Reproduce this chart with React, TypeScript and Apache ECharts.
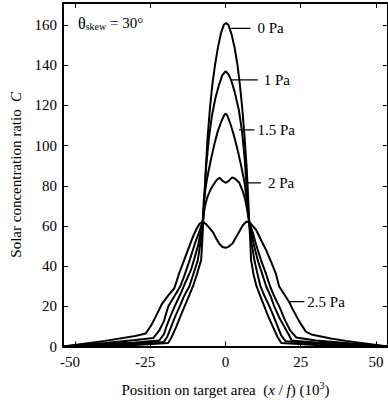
import React, { useEffect, useRef } from "react";
import * as echarts from "echarts";

const xTicks = [-50, -25, 0, 25, 50];
const yTicks = [0, 20, 40, 60, 80, 100, 120, 140, 160];

const seriesNames = ["0 Pa", "1 Pa", "1.5 Pa", "2 Pa", "2.5 Pa"];

const x0Pa = [-54, -40, -30, -19, -17.8, -16.3, -15, -13.6, -12.2, -10.8, -9.5, -8.1, -7.7, -7.4, -7.0, -6.5, -5.9, -5.2, -4.4, -3.5, -2.5, -1.5, -0.6, 0.2, 1, 2, 3, 4, 4.8, 5.6, 6.3, 7, 7.5, 7.9, 8.2, 8.5, 9.3, 10.3, 11.6, 12.9, 14.2, 15.7, 17.2, 18.5, 30, 40, 54];
const y0Pa = [0, 0.4, 0.7, 1.8, 5, 10, 15, 20, 25, 30, 36, 43, 53, 62, 75, 90, 105, 118, 130, 140, 149, 156, 160, 161, 160, 155.5, 149, 140, 130, 118, 105, 90, 75, 62, 53, 43, 36, 30, 25, 20, 15, 10, 5, 1.8, 0.7, 0.4, 0];

const x1Pa = [-54, -40, -30, -20.5, -19.3, -18, -16.7, -15.2, -13.8, -12, -10.7, -9.2, -8.3, -7.5, -7, -6.4, -5.5, -4.5, -3.3, -2.2, -1.1, 0, 1, 1.9, 3, 4.4, 5.5, 6.4, 7.1, 7.8, 8.6, 9.6, 10.5, 11.6, 13, 14.6, 16, 17.3, 18.5, 20, 30, 40, 54];
const y1Pa = [0, 0.8, 1.4, 2.3, 5, 10, 15, 20, 25, 30, 36, 43, 52, 62, 75, 90, 104, 115, 124, 130, 135, 137, 135.5, 132.5, 127, 118, 107, 93, 78, 62, 52, 43, 37, 30, 25, 20, 15, 10, 5.5, 2.6, 1.4, 0.8, 0];

const x15Pa = [-54, -40, -30, -22, -20.5, -19.6, -18.3, -16.9, -15, -13.3, -11.5, -10.5, -9, -7.6, -7.2, -6.2, -5, -3.8, -2.6, -1.4, -0.5, 0, 0.6, 1.6, 2.8, 4, 5.2, 6.4, 7.3, 7.9, 9.2, 10.7, 12, 13.5, 15, 16.2, 18, 19.5, 21, 22, 30, 40, 54];
const y15Pa = [0, 1.2, 2, 3, 6, 10, 15, 20, 26, 32, 38, 43, 51, 62, 73, 83, 92, 100, 107, 112, 115, 116, 115, 111, 105, 98, 90, 81, 70, 62, 52, 43, 37, 30, 25, 20, 14, 10, 6, 3, 2, 1.2, 0];

const x2Pa = [-54, -40, -30, -24, -22, -20.5, -19, -17, -15, -13.5, -11.9, -10, -8.5, -7.5, -6.8, -6, -5, -4, -3, -2, -1, 0, 1, 2.2, 3.2, 4.6, 5.7, 6.5, 7.3, 7.9, 9, 10.3, 11.8, 13.5, 14.8, 16.5, 18, 19.8, 21.5, 23.5, 30, 40, 54];
const y2Pa = [0, 1.8, 3.2, 4.2, 8, 12.5, 20, 25, 30, 36, 43, 52, 58, 63, 70, 74.5, 78, 80.5, 82.8, 84, 82.5, 81.5, 82.3, 84.2, 83.5, 81.5, 77.5, 73.5, 67, 62, 57, 50, 43, 36, 30, 24, 19.5, 13, 8, 4.5, 3, 1.8, 0];

const x25Pa = [-54, -40, -30, -26.5, -24.5, -22.5, -21, -19, -17, -15.5, -14, -12.5, -11, -9.5, -8.5, -7.5, -6.5, -5.5, -4.2, -3, -2, -1, 0, 1, 2.4, 3.5, 4.6, 5.8, 7, 8.2, 10.2, 11.8, 13.5, 15.2, 16.8, 17.8, 19.5, 21.2, 22.5, 24.5, 26.7, 28.5, 35, 40, 54];
const y25Pa = [0, 2.8, 5.2, 6.5, 11, 17, 21.5, 25.5, 29, 36, 42, 48, 54, 59, 61.3, 62, 61, 59.3, 57, 53.5, 51, 49.5, 49.2, 49.6, 51.4, 54.5, 57.3, 60.5, 62.2, 61.5, 58, 53, 48, 42, 36, 30, 26, 22, 18, 12.5, 7.4, 6, 4, 2.8, 0];

const curveX = [x0Pa, x1Pa, x15Pa, x2Pa, x25Pa];
const curveY = [y0Pa, y1Pa, y15Pa, y2Pa, y25Pa];

const labelY = [158.4, 132.7, 107.8, 81.5, 22.3];
const labelStartX = [1.9, 1.9, 4.5, 6.3, 21.2];
const labelEndX = [8.3, 10.7, 9.6, 11.8, 26.2];
const labelGap = [7, 6, 3, 7, 3];

const FONT = "Liberation Serif";

export default function App() {
  const ref = useRef<HTMLDivElement>(null);
  useEffect(() => {
    if (!ref.current) return;
    const chart = echarts.init(ref.current, null, { renderer: "svg" });

    const curveSeries = seriesNames.map((name, i) => ({
      name,
      type: "line",
      xAxisIndex: 0,
      yAxisIndex: 0,
      symbol: "none",
      smooth: false,
      lineStyle: { color: "#000", width: 2 },
      data: curveX[i].map((x, j) => [x, curveY[i][j]]),
      z: 3,
    }));

    const labelSeries = seriesNames.map((name, i) => ({
      name: name + " label",
      type: "line",
      xAxisIndex: 0,
      yAxisIndex: 0,
      symbol: "none",
      lineStyle: { color: "#000", width: 1.2 },
      data: [
        [labelStartX[i], labelY[i]],
        [labelEndX[i], labelY[i]],
      ],
      endLabel: {
        show: true,
        formatter: name,
        distance: labelGap[i],
        color: "#000",
        fontFamily: FONT,
        fontSize: 15,
        fontWeight: "normal",
      },
      z: 4,
    }));

    const tickStyle = { color: "#000", width: 1 };

    chart.setOption({
      animation: false,
      backgroundColor: "#fff",
      textStyle: { fontFamily: FONT, fontWeight: "normal" },
      grid: { left: 63, top: 3, right: -1, bottom: 55.5, containLabel: false },
      xAxis: [
        {
          type: "value",
          position: "bottom",
          min: -54,
          max: 54,
          axisLine: { show: true, onZero: false, lineStyle: { color: "#000", width: 2 } },
          axisTick: { show: true, inside: true, length: 5, customValues: xTicks, lineStyle: tickStyle },
          axisLabel: {
            show: true,
            customValues: xTicks,
            margin: 8,
            color: "#000",
            fontFamily: FONT,
            fontSize: 15,
            formatter: (v: number) => (v < 0 ? "{n|" + v + "}" : "{p|" + v + "}"),
            rich: {
              n: { fontFamily: FONT, fontSize: 15, color: "#000", padding: [0, 10, 0, 0] },
              p: { fontFamily: FONT, fontSize: 15, color: "#000" },
            },
          },
          splitLine: { show: false },
          name: "Position on target area  ({i|x} / {i|f}) (10{sup|3})",
          nameLocation: "middle",
          nameGap: 34,
          nameTextStyle: {
            color: "#000",
            fontFamily: FONT,
            fontSize: 15,
            rich: {
              i: { fontFamily: FONT, fontSize: 15, fontStyle: "italic", color: "#000" },
              sup: { fontFamily: FONT, fontSize: 10, color: "#000", verticalAlign: "top", padding: [0, 0, 8, 0] },
            },
          },
        },
        {
          type: "value",
          position: "top",
          min: -54,
          max: 54,
          axisLine: { show: true, onZero: false, lineStyle: { color: "#000", width: 2 } },
          axisTick: { show: true, inside: true, length: 5, customValues: xTicks, lineStyle: tickStyle },
          axisLabel: { show: false },
          splitLine: { show: false },
        },
      ],
      yAxis: [
        {
          type: "value",
          position: "left",
          min: 0,
          max: 171,
          axisLine: { show: true, onZero: false, lineStyle: { color: "#000", width: 2 } },
          axisTick: { show: true, inside: true, length: 5, customValues: yTicks, lineStyle: tickStyle },
          axisLabel: {
            show: true,
            customValues: yTicks,
            margin: 6,
            color: "#000",
            fontFamily: FONT,
            fontSize: 15,
          },
          splitLine: { show: false },
          name: "Solar concentration ratio  {i|C}",
          nameLocation: "middle",
          nameGap: 40,
          nameTextStyle: {
            color: "#000",
            fontFamily: FONT,
            fontSize: 15,
            rich: {
              i: { fontFamily: FONT, fontSize: 15, fontStyle: "italic", color: "#000" },
            },
          },
        },
        {
          type: "value",
          position: "right",
          min: 0,
          max: 171,
          axisLine: { show: true, onZero: false, lineStyle: { color: "#000", width: 2 } },
          axisTick: { show: true, inside: true, length: 5, customValues: yTicks, lineStyle: tickStyle },
          axisLabel: { show: false },
          splitLine: { show: false },
        },
      ],
      graphic: [
        {
          type: "text",
          left: 78,
          top: 15,
          style: {
            text: "{t|θ}{s|skew}{e| = 30°}",
            rich: {
              t: { fontFamily: FONT, fontSize: 16, fill: "#000", color: "#000" },
              s: { fontFamily: FONT, fontSize: 10, fill: "#000", color: "#000", verticalAlign: "bottom", padding: [6, 0, 0, 0] },
              e: { fontFamily: FONT, fontSize: 15, fill: "#000", color: "#000" },
            },
          },
        },
      ],
      series: [...curveSeries, ...labelSeries],
    });

    return () => chart.dispose();
  }, []);

  return (
    <div
      ref={ref}
      style={{ position: "absolute", left: 0, top: 0, width: 388, height: 402, overflow: "hidden" }}
    />
  );
}
